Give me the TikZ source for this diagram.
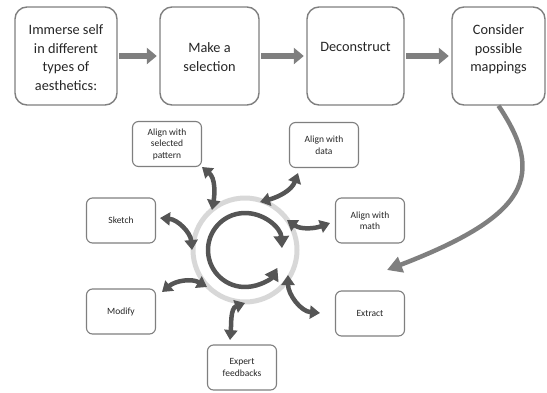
\documentclass[tikz,border=0pt]{standalone}
\usepackage{fontspec}
\setmainfont{Carlito}
\usetikzlibrary{arrows.meta}
\definecolor{boxgray}{HTML}{7F7F7F}
\definecolor{ringgray}{HTML}{D8D8D8}
\definecolor{darkarr}{HTML}{555555}
\definecolor{txt}{HTML}{262626}
\begin{document}
\begin{tikzpicture}[x=1pt,y=1pt,
  bigbox/.style={draw=boxgray, line width=1.4pt, rounded corners=12pt, fill=white, minimum height=98pt, inner sep=0pt},
  bigtext/.style={align=center, font=\fontsize{14.3}{18.5}\selectfont, text=txt, inner sep=0pt, anchor=north},
  smallbox/.style={draw=boxgray, line width=1.1pt, rounded corners=6pt, fill=white, minimum width=69pt, minimum height=45pt, inner sep=0pt, align=center, font=\fontsize{9.5}{11.5}\selectfont, text=txt},
  blockarrow/.style={draw=boxgray, line width=6.5pt, -{Triangle[length=10pt,width=16pt]}, shorten <=1.5pt, shorten >=2.5pt},
  link/.style={draw=darkarr, line width=4.5pt, {Triangle[length=10pt,width=13pt]}-{Triangle[length=10pt,width=13pt]}},
  cyclearrow/.style={draw=darkarr, line width=4.5pt, {Triangle[length=12pt,width=15pt]}-{Triangle[length=12pt,width=15pt]}},
  longarrow/.style={draw=boxgray, line width=4.5pt, -{Triangle[length=15pt,width=16pt]}}]
\useasboundingbox (0,0) rectangle (547,-392);

% top row of boxes
\node[bigbox, minimum width=102pt] (b1) at (66,-56) {};
\node[bigbox, minimum width=99pt] (b2) at (209.5,-56) {};
\node[bigbox, minimum width=97pt] (b3) at (355.5,-56) {};
\node[bigbox, minimum width=93pt] (b4) at (498.5,-56) {};
\node[bigtext] (t1) at (66,-24.5) {Immerse self\\in different\\types of\\aesthetics:};
\node[bigtext] (t2) at (209.5,-42.5) {Make a\\selection};
\node[bigtext] (t3) at (355.5,-42.5) {Deconstruct};
\node[bigtext] (t4) at (498.5,-24.5) {Consider\\possible\\mappings};

\draw[blockarrow] (b1.east) -- (b2.west);
\draw[blockarrow] (b2.east) -- (b3.west);
\draw[blockarrow] (b3.east) -- (b4.west);

% ring and cycle
\node[circle, draw=ringgray, line width=5pt, minimum size=104pt, inner sep=0pt] (ring) at (245,-250) {};
\draw[cyclearrow] ([shift={(3:37)}]ring.center) arc[start angle=3, end angle=331, radius=37];

% small boxes
\node[smallbox] (sp) at (167,-144) {Align with\\selected\\pattern};
\node[smallbox] (da) at (324,-145) {Align with\\data};
\node[smallbox] (sk) at (121,-220.5) {Sketch};
\node[smallbox] (ma) at (370,-220.5) {Align with\\math};
\node[smallbox] (mo) at (121,-311.5) {Modify};
\node[smallbox] (ex) at (370,-313.5) {Extract};
\node[smallbox] (ef) at (242,-367.5) {Expert\\feedbacks};

% link end points
\coordinate (spA) at (202,-167);  \coordinate (spB) at (212,-210);
\coordinate (daA) at (298,-173);  \coordinate (daB) at (260,-202);
\coordinate (maA) at (287,-220);  \coordinate (maB) at (330,-223);
\coordinate (skA) at (160,-218);  \coordinate (skB) at (192,-250);
\coordinate (moA) at (162,-292);  \coordinate (moB) at (207,-287);
\coordinate (efA) at (245,-303);  \coordinate (efB) at (230,-340);
\coordinate (exA) at (288,-275);  \coordinate (exB) at (320,-313);

\draw[link] (spA) to[out=-40,in=80] (spB);
\draw[link] (daA) to[out=-110,in=15] (daB);
\draw[link] (maA) to[out=-35,in=200] (maB);
\draw[link] (skA) to[out=-5,in=95] (skB);
\draw[link] (moA) to[out=40,in=150] (moB);
\draw[link] (efA) to[out=200,in=85] (efB);
\draw[link] (exA) to[out=-90,in=175] (exB);

% long arrow
\coordinate (target) at (387,-270);
\draw[longarrow] (b4.south) .. controls (545,-175) and (530,-215) .. (target);
\end{tikzpicture}
\end{document}
